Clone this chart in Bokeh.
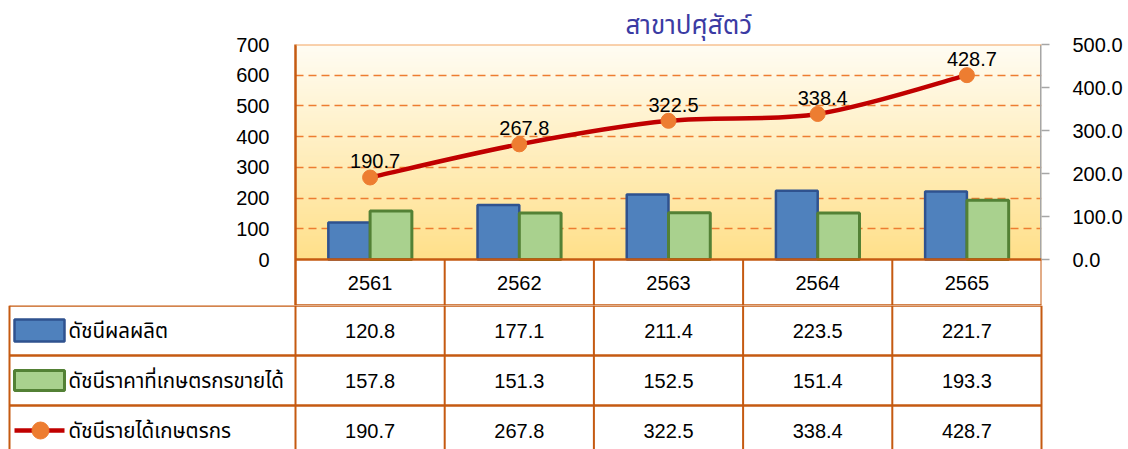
import numpy as np
from bokeh.plotting import figure
from bokeh.models import Range1d, LinearAxis, FixedTicker, Span, NumeralTickFormatter
from bokeh.embed import file_html
from bokeh.resources import INLINE
from bokeh.core.properties import value

# ---------------- data ----------------
title_text = "สาขาปศุสัตว์"
years = ["2561", "2562", "2563", "2564", "2565"]
production = [120.8, 177.1, 211.4, 223.5, 221.7]
price = [157.8, 151.3, 152.5, 151.4, 193.3]
income = [190.7, 267.8, 322.5, 338.4, 428.7]
series_names = ["ดัชนีผลผลิต", "ดัชนีราคาที่เกษตรกรขายได้", "ดัชนีรายได้เกษตรกร"]
left_ticks = [0, 100, 200, 300, 400, 500, 600, 700]
right_ticks = [0, 100, 200, 300, 400, 500]

# ---------------- style / layout ----------------
FONT = "Tahoma, 'Liberation Sans', 'Noto Sans Thai', 'Noto Sans', sans-serif"
BLUE, BLUE_EDGE = "#4F81BD", "#2F528F"
GREEN, GREEN_EDGE = "#A9D18E", "#538135"
RED, ORANGE = "#C00000", "#ED7D31"
DARK_OR = "#C55A11"
W = 1128
FL, FR = 295, 1041          # frame left / right (px)
FT, F0 = 44, 259            # frame top (700) / zero line (px)
HEADER = 46                 # header row height (px)
TOPH = F0 + HEADER          # top figure height
COLW = (FR - FL) / 5.0
LMAX, RMAX = 700, 500
PXL = (F0 - FT) / LMAX
PXR = (F0 - FT) / RMAX
lbot = -HEADER / PXL
rbot = -HEADER / PXR

n = len(years)
xc = [i + 0.5 for i in range(n)]

# ---------------- chart ----------------
p = figure(width=W, height=TOPH, x_range=Range1d(0, n), y_range=Range1d(lbot, LMAX),
           output_backend="svg", toolbar_location=None,
           min_border_left=FL, min_border_right=W - FR, min_border_top=FT,
           min_border_bottom=0, x_axis_location=None, y_axis_location="left")
p.outline_line_color = None
p.background_fill_color = "white"
p.border_fill_color = "white"

# gradient background of the plot area
N = 256
img = np.empty((N, 1), dtype=np.uint32)
v = img.view(dtype=np.uint8).reshape((N, 1, 4))
t_ = np.linspace(0, 1, N)
bot = np.array([255, 224, 138])
top = np.array([255, 253, 244])
cols = bot[None, :] * (1 - t_[:, None]) + top[None, :] * t_[:, None]
v[:, 0, 0] = cols[:, 0]
v[:, 0, 1] = cols[:, 1]
v[:, 0, 2] = cols[:, 2]
v[:, 0, 3] = 255
p.image_rgba(image=[img], x=0, y=0, dw=n, dh=LMAX, level="image")

p.xgrid.visible = False
p.ygrid.ticker = FixedTicker(ticks=left_ticks[1:-1])
p.ygrid.grid_line_color = ORANGE
p.ygrid.grid_line_width = 1.6
p.ygrid.grid_line_dash = "8 5"

la = p.yaxis[0]
la.ticker = FixedTicker(ticks=left_ticks)
la.axis_line_color = DARK_OR
la.axis_line_width = 2.5
la.major_tick_line_color = None
la.minor_tick_line_color = None
la.major_tick_out = 0
la.major_tick_in = 0
la.major_label_standoff = 26
la.major_label_text_font = FONT
la.major_label_text_font_size = "20px"
la.major_label_text_color = "black"

p.extra_y_ranges = {"r": Range1d(rbot, RMAX)}
ra = LinearAxis(y_range_name="r", ticker=FixedTicker(ticks=right_ticks),
                formatter=NumeralTickFormatter(format="0.0"))
ra.axis_line_color = None
ra.major_tick_line_color = "#A6A6A6"
ra.major_tick_line_width = 1.5
ra.major_tick_out = 8
ra.major_tick_in = 0
ra.minor_tick_line_color = None
ra.major_label_standoff = 23
ra.major_label_text_font = FONT
ra.major_label_text_font_size = "20px"
ra.major_label_text_color = "black"
p.add_layout(ra, "right")

# right edge: grey over the plot area, orange in the header row
p.segment(x0=[n], y0=[0], x1=[n], y1=[RMAX], line_color="#A6A6A6", line_width=3, y_range_name="r")
p.add_layout(Span(location=LMAX, dimension="width", line_color="#F4A460", line_width=2))
p.add_layout(Span(location=0, dimension="width", line_color=DARK_OR, line_width=2.5))
p.add_layout(Span(location=lbot, dimension="width", line_color=DARK_OR, line_width=2.5))

# header row of the data table (years)
p.segment(x0=list(range(1, n + 1)), y0=[lbot] * n, x1=list(range(1, n + 1)), y1=[0] * n,
          line_color=DARK_OR, line_width=2)
p.text(xc, [-HEADER / 2 / PXL] * n, text=years, text_align="center", text_baseline="middle",
       text_font=value(FONT), text_font_size="20px", text_color="black")

p.title.text = title_text
p.title.align = "left"
p.title.offset = 330
p.title.text_font = FONT
p.title.text_font_size = "26px"
p.title.text_font_style = "normal"
p.title.text_color = "#3B3BA3"

bw = 0.28
p.vbar(x=[x - bw / 2 for x in xc], top=production, width=bw, bottom=0,
       fill_color=BLUE, line_color=BLUE_EDGE, line_width=2.5)
p.vbar(x=[x + bw / 2 for x in xc], top=price, width=bw, bottom=0,
       fill_color=GREEN, line_color=GREEN_EDGE, line_width=3)

# smooth line (Catmull-Rom bezier through the data points)
P = list(zip(xc, income))
x0s, y0s, x1s, y1s, cx0, cy0, cx1, cy1 = [], [], [], [], [], [], [], []
for i in range(n - 1):
    pm = P[max(i - 1, 0)]
    p0 = P[i]
    p1 = P[i + 1]
    p2 = P[min(i + 2, n - 1)]
    x0s.append(p0[0]); y0s.append(p0[1]); x1s.append(p1[0]); y1s.append(p1[1])
    cx0.append(p0[0] + (p1[0] - pm[0]) / 6); cy0.append(p0[1] + (p1[1] - pm[1]) / 6)
    cx1.append(p1[0] - (p2[0] - p0[0]) / 6); cy1.append(p1[1] - (p2[1] - p0[1]) / 6)
p.bezier(x0=x0s, y0=y0s, x1=x1s, y1=y1s, cx0=cx0, cy0=cy0, cx1=cx1, cy1=cy1,
         line_color=RED, line_width=4.5, y_range_name="r")
p.scatter(xc, income, size=15, fill_color=ORANGE, line_color=ORANGE, y_range_name="r")
p.text(xc, income, text=[f"{v_:.1f}" for v_ in income], x_offset=5, y_offset=-9,
       text_align="center", text_baseline="bottom", text_font=value(FONT),
       text_font_size="20px", text_color="black", y_range_name="r")

# ---------------- data rows of the table ----------------
TH = 449 - TOPH
u0 = (0 - FL) / COLW
u1 = (W - FL) / COLW


def px2u(px):
    return (px - FL) / COLW


t = figure(width=W, height=TH, x_range=Range1d(u0, u1), y_range=Range1d(TH, 0),
           output_backend="svg", toolbar_location=None,
           min_border_left=0, min_border_right=0, min_border_top=0, min_border_bottom=0,
           x_axis_location=None, y_axis_location=None)
t.outline_line_color = None
t.grid.visible = False
t.background_fill_color = "white"
t.border_fill_color = "white"

ROWH = 50
row_edges = [0, ROWH, 2 * ROWH, 3 * ROWH]
row_mid = [ROWH * (k + 0.5) for k in range(3)]
uleft = px2u(9)

t.segment(x0=list(range(n + 1)), y0=[0] * (n + 1), x1=list(range(n + 1)), y1=[TH] * (n + 1),
          line_color=DARK_OR, line_width=2)
t.segment(x0=[uleft], y0=[0], x1=[uleft], y1=[TH], line_color=DARK_OR, line_width=2)
t.segment(x0=[uleft] * 3, y0=row_edges[:3], x1=[n] * 3, y1=row_edges[:3],
          line_color=DARK_OR, line_width=2.5)

tkw = dict(text_align="center", text_baseline="middle", text_font=value(FONT),
           text_font_size="20px", text_color="black")
for k, vals in enumerate([production, price, income]):
    t.text(xc, [row_mid[k]] * n, text=[f"{v_:.1f}" for v_ in vals], **tkw)

# legend keys
sx0, sx1, sxm = px2u(14), px2u(64), px2u(40)
t.quad(left=[sx0], right=[sx1], top=[row_mid[0] - 11], bottom=[row_mid[0] + 11],
       fill_color=BLUE, line_color=BLUE_EDGE, line_width=2.5)
t.quad(left=[sx0], right=[sx1], top=[row_mid[1] - 10], bottom=[row_mid[1] + 10],
       fill_color=GREEN, line_color=GREEN_EDGE, line_width=3)
t.segment(x0=[sx0], y0=[row_mid[2]], x1=[sx1], y1=[row_mid[2]], line_color=RED, line_width=4.5)
t.scatter([sxm], [row_mid[2]], size=17, fill_color=ORANGE, line_color=ORANGE)
t.text([px2u(68)] * 3, row_mid, text=series_names, text_align="left",
       text_baseline="middle", text_font=value(FONT), text_font_size="20.5px", text_color="black")

open("out.html", "w").write(file_html([p, t], INLINE))
